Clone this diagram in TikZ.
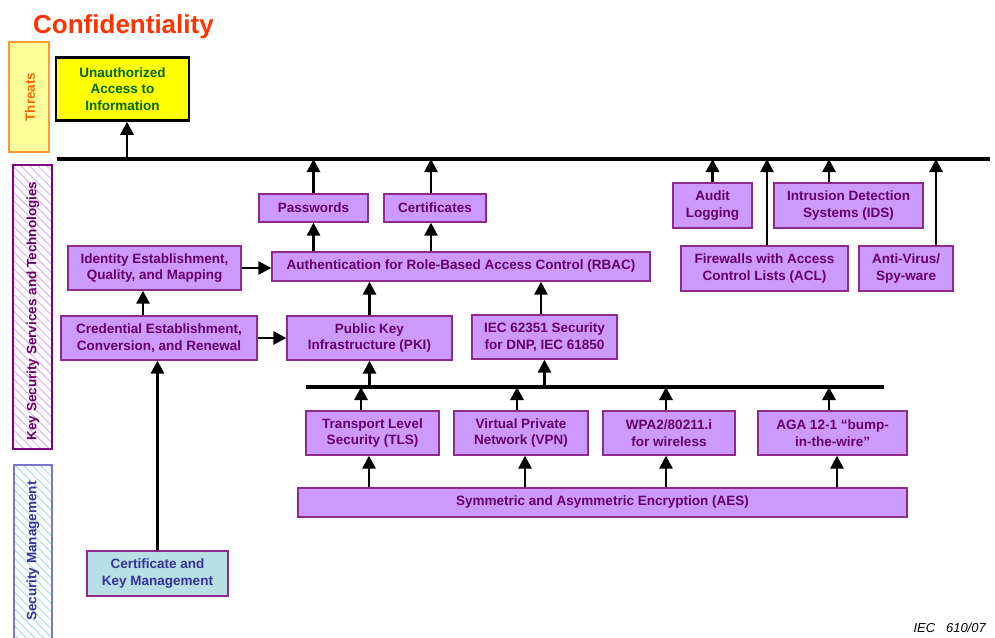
\documentclass[tikz,border=0pt]{standalone}
\usepackage{fontspec}
\setmainfont{Liberation Sans}
\usetikzlibrary{arrows.meta,patterns.meta,calc}
\definecolor{pfill}{HTML}{CC99FF}
\definecolor{pdraw}{HTML}{8E2A8E}
\definecolor{ptext}{HTML}{660066}
\definecolor{titlec}{HTML}{FF3300}
\definecolor{thrfill}{HTML}{FFFF99}
\definecolor{thrdraw}{HTML}{FF9933}
\definecolor{thrtext}{HTML}{FF6600}
\definecolor{kssdraw}{HTML}{800080}
\definecolor{kssh}{HTML}{DDB8F5}
\definecolor{smdraw}{HTML}{7777CC}
\definecolor{smtext}{HTML}{333399}
\definecolor{smh}{HTML}{B5E0E6}
\definecolor{ckmfill}{HTML}{B8DFE3}
\definecolor{unfill}{HTML}{FFFF00}
\definecolor{untext}{HTML}{006600}
\begin{document}
\begin{tikzpicture}[x=1pt,y=-1pt,
  boxfont/.style={font=\fontsize{13.5}{16.5}\selectfont\bfseries},
  pbox/.style={draw=pdraw, fill=pfill, line width=1.3pt, text=ptext, boxfont, align=center, inner sep=0pt},
  ckmbox/.style={draw=pdraw, fill=ckmfill, line width=1.3pt, text=smtext, boxfont, align=center, inner sep=0pt},
  unbox/.style={draw=black, fill=unfill, line width=2.5pt, text=untext, boxfont, align=center, inner sep=0pt},
  lane/.style={line width=1.5pt, inner sep=0pt},
  lanetext/.style={rotate=90, boxfont, inner sep=0pt},
  arr/.style={line width=2.8pt, -{Triangle[length=13pt,width=13pt]}},
  bus/.style={line width=3.2pt}
]
\useasboundingbox (0,0) rectangle (995,637);

% title
\node[anchor=base west, font=\fontsize{26}{30}\selectfont\bfseries, text=titlec, inner sep=0pt] (title) at (33,33) {Confidentiality};

% lanes
\node[lane, draw=thrdraw, fill=thrfill, minimum width=40pt, minimum height=110pt] (thr) at (29,97) {};
\node[lanetext, text=thrtext] (thrt) at (30,97) {Threats};
\node[lane, draw=kssdraw, fill=white, pattern={Lines[angle=-45,distance=6pt,line width=1.2pt]}, pattern color=kssh, minimum width=39pt, minimum height=284pt] (kss) at (32.5,307) {};
\node[lane, draw=kssdraw, minimum width=39pt, minimum height=284pt] (kssb) at (32.5,307) {};
\node[lanetext, text=ptext] (ksst) at (33,311) {Key Security Services and Technologies};
\node[lane, draw=smdraw, pattern={Lines[angle=-45,distance=6pt,line width=1.2pt]}, pattern color=smh, minimum width=38pt, minimum height=190pt] (sm) at (33,560) {};
\node[lane, draw=smdraw, minimum width=38pt, minimum height=190pt] (smb) at (33,560) {};
\node[lanetext, text=smtext] (smt) at (33,551) {Security Management};

% buses
\coordinate (b1L) at (57,159);
\coordinate (b1R) at (990,159);
\coordinate (b2L) at (306,387);
\coordinate (b2R) at (884,387);
\draw[bus] (b1L) -- (b1R);
\draw[bus] (b2L) -- (b2R);

% boxes
\node[unbox, minimum width=133pt, minimum height=63pt] (un) at (122.5,89) {Unauthorized\\Access to\\Information};
\node[pbox, minimum width=109pt, minimum height=28pt] (pw) at (313.5,208) {Passwords};
\node[pbox, minimum width=102pt, minimum height=28pt] (cert) at (435,208) {Certificates};
\node[pbox, minimum width=378pt, minimum height=29pt] (rbac) at (461,266.5) {Authentication for Role-Based Access Control (RBAC)};
\node[pbox, minimum width=173pt, minimum height=44pt] (id) at (154.5,268) {Identity Establishment,\\Quality, and Mapping};
\node[pbox, minimum width=196pt, minimum height=44pt] (cred) at (159,338) {Credential Establishment,\\Conversion, and Renewal};
\node[pbox, minimum width=165pt, minimum height=44pt] (pki) at (369.5,338) {Public Key\\Infrastructure (PKI)};
\node[pbox, minimum width=145pt, minimum height=44pt] (iec) at (544.5,337) {IEC 62351 Security\\for DNP, IEC 61850};
\node[pbox, minimum width=133pt, minimum height=44pt] (tls) at (372.5,433) {Transport Level\\Security (TLS)};
\node[pbox, minimum width=134pt, minimum height=44pt] (vpn) at (521,433) {Virtual Private\\Network (VPN)};
\node[pbox, minimum width=132pt, minimum height=44pt] (wpa) at (669,433) {WPA2/80211.i\\for wireless};
\node[pbox, minimum width=149pt, minimum height=44pt] (aga) at (832.5,433) {AGA 12-1 “bump-\\in-the-wire”};
\node[pbox, minimum width=609pt, minimum height=29pt] (aes) at (602.5,502.5) {Symmetric and Asymmetric Encryption (AES)};
\node[pbox, minimum width=79pt, minimum height=45pt] (aud) at (712.5,205.5) {Audit\\Logging};
\node[pbox, minimum width=149pt, minimum height=45pt] (ids) at (848.5,205.5) {Intrusion Detection\\Systems (IDS)};
\node[pbox, minimum width=167pt, minimum height=45pt] (fw) at (764.5,268.5) {Firewalls with Access\\Control Lists (ACL)};
\node[pbox, minimum width=94pt, minimum height=45pt] (av) at (906,268.5) {Anti-Virus/\\Spy-ware};
\node[ckmbox, minimum width=141pt, minimum height=45pt] (ckm) at (157.5,573.5) {Certificate and\\Key Management};

% arrows to top bus
\draw[arr] ([xshift=4.5pt]un.south |- b1L) -- ([xshift=4.5pt]un.south);
\draw[arr] (pw.north) -- (pw.north |- b1L);
\draw[arr] ([xshift=-4pt]cert.north) -- ([xshift=-4pt]cert.north |- b1L);
\draw[arr] (aud.north) -- (aud.north |- b1L);
\draw[arr] ([xshift=-19.5pt]ids.north) -- ([xshift=-19.5pt]ids.north |- b1L);
\draw[arr] ([xshift=2.5pt]fw.north) -- ([xshift=2.5pt]fw.north |- b1L);
\draw[arr] ([xshift=30pt]av.north) -- ([xshift=30pt]av.north |- b1L);

% middle arrows
\draw[arr] (rbac.north -| pw.south) -- (pw.south);
\draw[arr] ([xshift=-4pt]cert.south |- rbac.north) -- ([xshift=-4pt]cert.south);
\draw[arr] (id.east) -- (id.east -| rbac.west);
\draw[arr] ([xshift=-16pt]cred.north) -- ([xshift=-16pt]cred.north |- id.south);
\draw[arr] (cred.east) -- (cred.east -| pki.west);
\draw[arr] (pki.north) -- (pki.north |- rbac.south);
\draw[arr] ([xshift=-3.5pt]iec.north) -- ([xshift=-3.5pt]iec.north |- rbac.south);
\draw[arr] (ckm.north) -- (ckm.north |- cred.south);

% lower bus arrows
\draw[arr] (pki.south |- b2L) -- (pki.south);
\draw[arr] (iec.south |- b2L) -- (iec.south);
\draw[arr] ([xshift=-11.5pt]tls.north) -- ([xshift=-11.5pt]tls.north |- b2L);
\draw[arr] ([xshift=-4pt]vpn.north) -- ([xshift=-4pt]vpn.north |- b2L);
\draw[arr] ([xshift=-3pt]wpa.north) -- ([xshift=-3pt]wpa.north |- b2L);
\draw[arr] ([xshift=-3.5pt]aga.north) -- ([xshift=-3.5pt]aga.north |- b2L);

% AES arrows
\draw[arr] ([xshift=-3.5pt]tls.south |- aes.north) -- ([xshift=-3.5pt]tls.south);
\draw[arr] ([xshift=4pt]vpn.south |- aes.north) -- ([xshift=4pt]vpn.south);
\draw[arr] ([xshift=-3pt]wpa.south |- aes.north) -- ([xshift=-3pt]wpa.south);
\draw[arr] ([xshift=4.5pt]aga.south |- aes.north) -- ([xshift=4.5pt]aga.south);

% footer
\node[anchor=base east, font=\fontsize{13}{15}\selectfont\itshape, inner sep=0pt] (iecref) at (986,632) {IEC\ \ \ 610/07};
\end{tikzpicture}
\end{document}
